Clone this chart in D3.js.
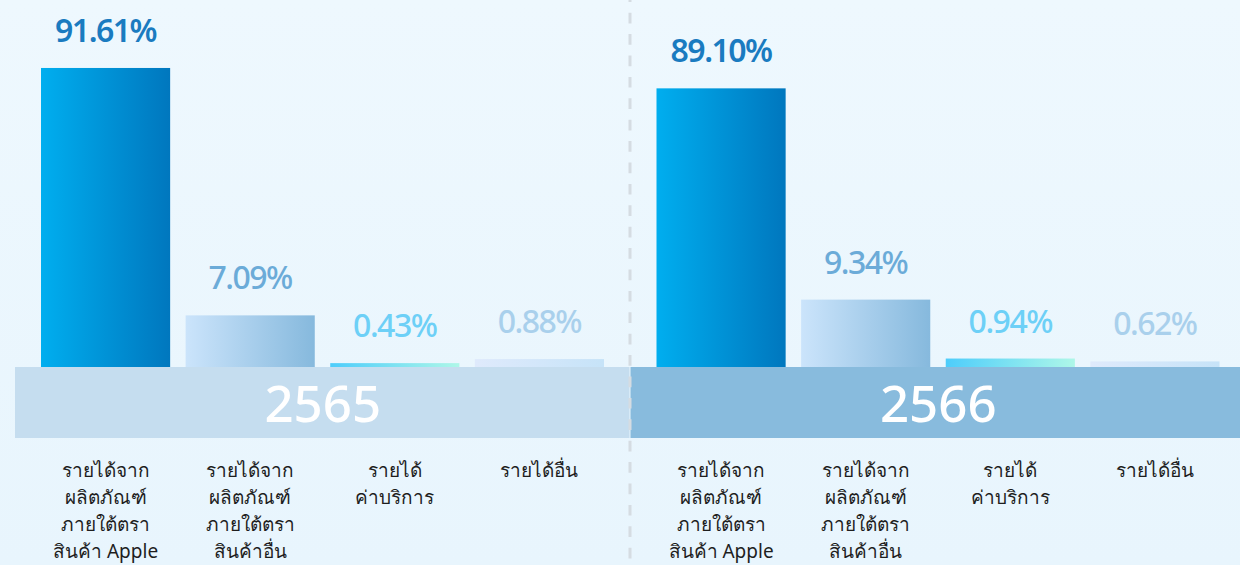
<!DOCTYPE html>
<html>
<head>
<meta charset="utf-8">
<script src="https://cdn.jsdelivr.net/npm/d3@7"></script>
<style>
  html, body { margin: 0; padding: 0; }
  body { width: 1240px; height: 565px; overflow: hidden; }
  svg { display: block; }
</style>
</head>
<body>
<svg id="chart" width="1240" height="565"></svg>
<script>
// ---- data ----
const years = ["2565", "2566"];
const categories = ["apple", "other", "service", "misc"];
const categoryLabels = [
  ["รายได้จาก", "ผลิตภัณฑ์", "ภายใต้ตรา", "สินค้า Apple"],
  ["รายได้จาก", "ผลิตภัณฑ์", "ภายใต้ตรา", "สินค้าอื่น"],
  ["รายได้", "ค่าบริการ"],
  ["รายได้อื่น"]
];
const values2565 = [91.61, 7.09, 0.43, 0.88];
const values2566 = [89.10, 9.34, 0.94, 0.62];
const seriesValues = [values2565, values2566];

// ---- styles ----
const gradStops = [
  ["#00aeef", "#0077be"],
  ["#cbe4fb", "#86b9dd"],
  ["#4dcdfb", "#aef7e8"],
  ["#dfeafc", "#c6e3f8"]
];
const labelColors = ["#1a7bc0", "#6babd8", "#6dd0f7", "#a9d0ec"];
const bandColors = ["#c5ddef", "#88bbdd"];
const FONT = "'Noto Sans', 'DejaVu Sans', sans-serif";

const W = 1240, H = 565;
const baseY = 367;
const svg = d3.select("#chart");

const defs = svg.append("defs");
const bg = defs.append("linearGradient").attr("id", "bg")
  .attr("x1", 0).attr("y1", 0).attr("x2", 0).attr("y2", 1);
bg.append("stop").attr("offset", "0%").attr("stop-color", "#eef8fe");
bg.append("stop").attr("offset", "100%").attr("stop-color", "#e8f5fd");
gradStops.forEach((s, i) => {
  const g = defs.append("linearGradient").attr("id", "g" + i)
    .attr("x1", 0).attr("y1", 0).attr("x2", 1).attr("y2", 0);
  g.append("stop").attr("offset", "0%").attr("stop-color", s[0]);
  g.append("stop").attr("offset", "100%").attr("stop-color", s[1]);
});

svg.append("rect").attr("width", W).attr("height", H).attr("fill", "url(#bg)");

// ---- scales ----
const xYear = d3.scaleBand().domain(years).range([15, 1246]);
const xCat = d3.scaleBand().domain(categories).range([26, 589]).paddingInner(0.107);
// broken (piecewise) value scale as drawn in the infographic
const y = d3.scaleLinear().domain([0, 1, 10, 90, 100]).range([baseY, baseY - 9, baseY - 72, baseY - 281, baseY - 393]);

years.forEach((yr, yi) => {
  const px = xYear(yr);
  const g = svg.append("g").attr("transform", `translate(${px},0)`);
  const vals = seriesValues[yi];

  g.selectAll("rect.bar").data(vals).join("rect")
    .attr("class", "bar")
    .attr("x", (d, i) => xCat(categories[i]))
    .attr("width", xCat.bandwidth())
    .attr("y", d => y(d))
    .attr("height", d => baseY - y(d))
    .attr("fill", (d, i) => `url(#g${i})`);

  g.selectAll("text.val").data(vals).join("text")
    .attr("class", "val")
    .attr("x", (d, i) => xCat(categories[i]) + xCat.bandwidth() / 2)
    .attr("y", d => y(d) - 26)
    .attr("text-anchor", "middle")
    .attr("font-family", FONT)
    .attr("font-size", 32)
    .attr("font-weight", (d, i) => i === 0 ? 600 : 500)
    .attr("letter-spacing", -1.5)
    .attr("fill", (d, i) => labelColors[i])
    .text(d => d.toFixed(2) + "%");

  // year band
  svg.append("rect")
    .attr("x", px).attr("y", baseY)
    .attr("width", xYear.bandwidth() - 1).attr("height", 71)
    .attr("fill", bandColors[yi]);
  svg.append("text")
    .attr("x", px + xYear.bandwidth() / 2).attr("y", 422)
    .attr("text-anchor", "middle")
    .attr("font-family", FONT).attr("font-size", 51).attr("font-weight", 500)
    .attr("fill", "#ffffff")
    .text(yr);

  // category labels
  categories.forEach((c, ci) => {
    const t = g.append("text")
      .attr("x", xCat(c) + xCat.bandwidth() / 2)
      .attr("y", 477)
      .attr("text-anchor", "middle")
      .attr("font-family", FONT).attr("font-size", 19)
      .attr("fill", "#1e1e1e");
    categoryLabels[ci].forEach((line, li) => {
      t.append("tspan")
        .attr("x", xCat(c) + xCat.bandwidth() / 2)
        .attr("dy", li === 0 ? 0 : 27)
        .text(line);
    });
  });
});

// dashed divider
svg.append("line")
  .attr("x1", 630).attr("x2", 630).attr("y1", 0).attr("y2", H)
  .attr("stroke", "#d5dce2").attr("stroke-width", 3)
  .attr("stroke-dasharray", "10.7 10.7").attr("stroke-dashoffset", 8.7);
</script>
</body>
</html>
